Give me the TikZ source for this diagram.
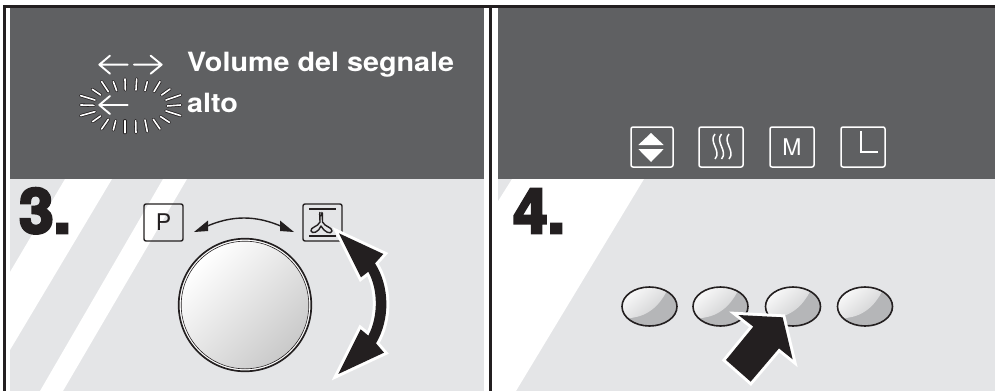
\documentclass[tikz,border=0pt]{standalone}
\usepackage{fontspec}
\setmainfont{TeX Gyre Heros}
\newfontfamily\heavy[FakeBold=4.5]{TeX Gyre Heros Bold}
\newfontfamily\labf[FakeStretch=1.085]{TeX Gyre Heros Bold}
\usetikzlibrary{arrows.meta}
\definecolor{ink}{HTML}{231F20}
\definecolor{darkp}{HTML}{5F6062}
\definecolor{lightp}{HTML}{E4E5E7}
\definecolor{btn}{HTML}{B5B6B8}
\tikzset{
  lab/.style={anchor=base west,inner sep=0pt,text=white,font=\labf\fontsize{26.5}{26.5}\selectfont},
  num/.style={anchor=base west,inner sep=0pt,text=ink,font=\heavy\fontsize{62}{62}\selectfont},
  keyw/.style={draw=white,line width=1.5pt,rounded corners=2pt},
  keyk/.style={draw=ink,line width=1.4pt,rounded corners=2pt},
  wline/.style={draw=white,line width=1.8pt},
  bigarrow/.style={fill=ink,draw=none,preaction={draw=white,line width=6pt,line join=miter,miter limit=12}},
  ovalbtn/.style={draw=ink,line width=1.6pt},
  kinfo/.style={anchor=center,inner sep=0pt,font=\fontsize{23}{23}\selectfont}
}
\newcommand{\ovalb}[1]{%
  \begin{scope}[shift={(#1,306.5)}]
    \fill[btn] (0,0) ellipse [x radius=27.5,y radius=19.5];
    \begin{scope}
      \clip (0,0) ellipse [x radius=27.5,y radius=19.5];
      \shade[top color=white,bottom color=btn!70!white,shading angle=40]
        (-30,-25) -- (20,-25) -- (19,-19) .. controls (14,-8) and (4,8) .. (-16,11) .. controls (-22,12) and (-28,14) .. (-30,15) -- cycle;
    \end{scope}
    \draw[ovalbtn] (0,0) ellipse [x radius=27.5,y radius=19.5];
  \end{scope}}
\begin{document}
\begin{tikzpicture}[x=1pt,y=-1pt]
\useasboundingbox (0,0) rectangle (995,391);
\fill[white] (0,0) rectangle (995,391);
% panels
\fill[darkp] (10,7) rectangle (484,179);
\fill[lightp] (10,179) rectangle (484,391);
\fill[darkp] (497.5,7) rectangle (995,179);
\fill[lightp] (497.5,179) rectangle (995,391);
% stripes
\fill[white] (65,179) -- (112,179) -- (10,350) -- (10,272) -- cycle;
\fill[white] (163,179) -- (187,179) -- (63,391) -- (40,391) -- cycle;
\fill[white] (512,179) -- (644,179) -- (516,391) -- (497.5,391) -- (497.5,202) -- cycle;
% frame
\fill[ink] (3.3,5) rectangle (995,7.5);
\fill[ink] (3.3,5) rectangle (6,391);
\fill[ink] (489.4,5) rectangle (492,391);
% texts
\node[lab] (t1) at (187,71) {Volume del segnale};
\node[lab] (t2) at (187,112) {alto};
\node[num] (n3) at (19,233) {3.};
\node[num] (n4) at (513,233) {4.};
% small arrows
\begin{scope}[shift={(60,30)},x=0.3333pt,y=-0.3333pt]
  \draw[white,line width=1.9pt,line cap=round,line join=round]
    (203,104) -- (118,104) (150,77) -- (118,104) -- (150,131);
  \draw[white,line width=1.9pt,line cap=round,line join=round]
    (222,104) -- (305,104) (272,77) -- (305,104) -- (272,131);
  \draw[white,line width=1.9pt,line cap=round,line join=round]
    (203,225) -- (118,225) (150,198) -- (118,225) -- (150,252);
  \foreach \a/\b/\c/\d in {125/155/145/185,160/155/170/182,195/147/196/180,230/147/228/180,262/155/255/182,300/155/282/185,330/177/305/195,362/195/318/210,362/225/322/228,362/257/318/243,328/277/302/260,300/297/280/268,262/305/255/270,228/308/227/272,195/308/195/272,160/300/167/272,125/297/145/268,98/275/122/258,62/257/105/245,62/225/102/226,62/197/105/210,97/178/122/195}{
    \draw[ink,line width=3.2pt,line cap=round] (\a,\b) -- (\c,\d);
    \draw[white,line width=1.6pt,line cap=round] (\a,\b) -- (\c,\d);
  }
\end{scope}
% P key and fan key
\node[keyk,minimum width=39pt,minimum height=37pt,inner sep=0pt] (kp) at (163.5,222.5) {};
\node[kinfo,text=ink] at (kp.center) {P};
\node[keyk,minimum width=39pt,minimum height=37pt,inner sep=0pt] (kf) at (322.5,222.5) {};
\draw[ink,line width=1.3pt] (309,209) -- (336,209) (309,236) -- (336,236);
\draw[ink,line width=1.4pt,line join=round]
  (320,212) .. controls (318,217) and (323,217) .. (322,212) (319.7,213) -- (320,222)
  .. controls (318,227) and (310,227) .. (311,231) .. controls (312,234.5) and (319,232) .. (321,226)
  .. controls (324,232) and (331,235) .. (332,231) .. controls (332,227) and (325,227) .. (322.5,222) -- (322.3,213);
% selector arc
\coordinate (al) at (194,232);
\coordinate (ar) at (294,232);
\draw[ink,line width=1.4pt] (205,227) .. controls (232,215) and (256,215) .. (283,227);
\fill[ink] (al) -- (208,220.5) -- (208,231) -- cycle;
\fill[ink] (ar) -- (280,220.5) -- (280,231) -- cycle;
% knob
\coordinate (kc) at (245,305);
\draw[ink,line width=1.7pt,fill=white] (kc) circle [radius=66.3];
\shade[top color=white,bottom color=gray!42,shading angle=45] (kc) circle [radius=63.5];
\draw[ink,line width=0.6pt] (kc) circle [radius=63.8];
% double arrow
\begin{scope}[shift={(250,170)},x=0.3333pt,y=-0.3333pt]
  \path[bigarrow] (267,190) -- (400,252) -- (375,280) .. controls (420,350) and (420,450) .. (378,520)
    -- (402,548) -- (265,612) -- (332,478) -- (355,497) .. controls (385,440) and (385,360) .. (355,305)
    -- (333,322) -- cycle;
\end{scope}
% right keys
\node[keyw,minimum width=42pt,minimum height=40pt,inner sep=0pt] (k1) at (652,147) {};
\node[keyw,minimum width=44pt,minimum height=40pt,inner sep=0pt] (k2) at (721,147) {};
\node[keyw,minimum width=44pt,minimum height=40pt,inner sep=0pt] (k3) at (792,147) {};
\node[keyw,minimum width=44pt,minimum height=40pt,inner sep=0pt] (k4) at (863,147) {};
\fill[white] (651,133) -- (663.7,145) -- (638.3,145) -- cycle;
\fill[white] (651,162) -- (663.7,149) -- (638.3,149) -- cycle;
\foreach \x in {715,721.5,729}{
  \draw[white,line width=1.5pt] (\x,134) .. controls (\x-7,142) and (\x+7,151) .. (\x,159);
}
\node[kinfo,text=white] at (k3.center) {M};
\draw[wline] (861,131) -- (861,152) -- (878,152);
% buttons
\ovalb{649.5}
\ovalb{720.5}
\ovalb{793}
\ovalb{865}
% press arrow
\begin{scope}[shift={(600,270)},x=0.3333pt,y=-0.3333pt]
  \path[bigarrow] (415,135) -- (548,142) -- (578,268) -- (537,235) -- (452,335) -- (378,270) -- (460,170) -- cycle;
\end{scope}
\end{tikzpicture}
\end{document}
